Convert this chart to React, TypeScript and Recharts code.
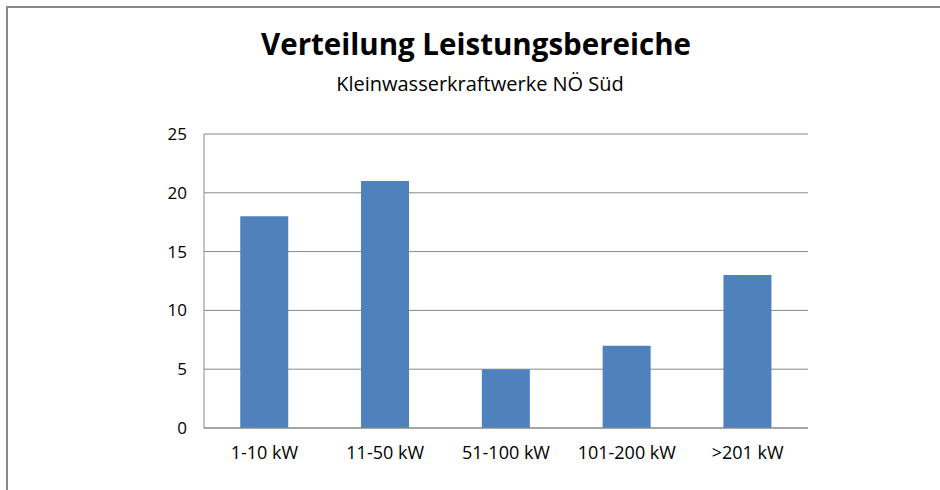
import React from "react";
import { BarChart, Bar, XAxis, YAxis, CartesianGrid } from "recharts";

const categories = ["1-10 kW", "11-50 kW", "51-100 kW", "101-200 kW", ">201 kW"];
const counts = [18, 21, 5, 7, 13];
const yTicks = [0, 5, 10, 15, 20, 25];
const title = "Verteilung Leistungsbereiche";
const subtitle = "Kleinwasserkraftwerke NÖ Süd";

const data = categories.map((c, i) => ({ name: c, value: counts[i] }));

const FONT = "'Open Sans', sans-serif";
const GRID = "#888888";

export default function App() {
  return (
    <div
      style={{
        position: "absolute",
        left: 0,
        top: 0,
        width: 940,
        height: 490,
        background: "#ffffff",
        overflow: "hidden",
        fontFamily: FONT,
      }}
    >
      <div
        style={{
          position: "absolute",
          left: 6,
          top: 6,
          width: 1200,
          height: 1200,
          border: "2px solid #878787",
        }}
      />
      <div
        style={{
          position: "absolute",
          left: 0,
          top: 24,
          width: 952,
          textAlign: "center",
          fontSize: 29.5,
          fontWeight: 700,
          color: "#000",
          lineHeight: "40px",
        }}
      >
        {title}
      </div>
      <div
        style={{
          position: "absolute",
          left: 0,
          top: 70,
          width: 960,
          textAlign: "center",
          fontSize: 20,
          color: "#000",
          lineHeight: "28px",
        }}
      >
        {subtitle}
      </div>
      <div style={{ position: "absolute", left: 0, top: 0 }}>
        <BarChart
          width={940}
          height={490}
          data={data}
          margin={{ top: 134, right: 132, bottom: 32, left: 164 }}
          barCategoryGap="30%"
        >
          <CartesianGrid horizontal={true} vertical={false} stroke={GRID} strokeWidth={1} />
          <XAxis
            dataKey="name"
            height={30}
            tickLine={false}
            tickSize={0}
            tickMargin={18}
            axisLine={{ stroke: GRID }}
            tick={{ fill: "#000", fontSize: 18, fontFamily: FONT }}
            interval={0}
          />
          <YAxis
            width={40}
            domain={[0, 25]}
            ticks={yTicks}
            tickLine={false}
            tickSize={0}
            tickMargin={17}
            axisLine={{ stroke: GRID }}
            tick={{ fill: "#000", fontSize: 17, fontFamily: FONT }}
          />
          <Bar dataKey="value" fill="#4F81BD" isAnimationActive={false} />
        </BarChart>
      </div>
    </div>
  );
}
